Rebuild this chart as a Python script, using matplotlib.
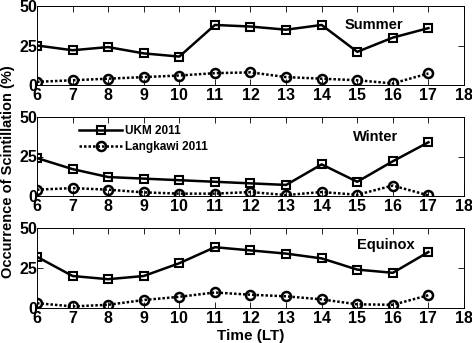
import numpy as np
import matplotlib
matplotlib.use("Agg")
import matplotlib.pyplot as plt

plt.rcParams['font.family'] = ['Liberation Sans', 'DejaVu Sans']
plt.rcParams['font.weight'] = 'bold'

hours = [6, 7, 8, 9, 10, 11, 12, 13, 14, 15, 16, 17]

summer_ukm = [25, 22, 24, 20, 18, 38, 37, 35, 38, 21, 30, 36]
summer_lgk = [2, 3, 4, 5, 6, 7.5, 8, 5, 4, 3, 1, 7.3]

winter_ukm = [24, 17, 12, 11, 10, 9, 8, 7, 20, 9, 22, 34]
winter_lgk = [4, 5, 4, 2.3, 1.5, 1.5, 2.5, 0.6, 2.5, 0.8, 6.6, 0.4]

equinox_ukm = [32, 20, 18, 20, 28, 38, 36, 34, 31, 24, 22, 35]
equinox_lgk = [3, 1, 2, 5, 7, 9.7, 8.3, 7.3, 5.4, 2.3, 2, 8]

seasons = ['Summer', 'Winter', 'Equinox']
ukm_data = [summer_ukm, winter_ukm, equinox_ukm]
lgk_data = [summer_lgk, winter_lgk, equinox_lgk]

W, H = 472, 343
fig = plt.figure(figsize=(W / 100, H / 100), dpi=100)

# axes boxes in pixels: (top, bottom)
boxes = [(6, 85), (117, 196), (228, 308)]
left, right = 37, 464
label_pos = [(0.72, 0.76), (0.74, 0.75), (0.75, 0.79)]

for i, (top, bot) in enumerate(boxes):
    ax = fig.add_axes([left / W, 1 - bot / H, (right - left) / W, (bot - top) / H])
    ax.plot(hours, ukm_data[i], '-', color='black', lw=1.8, marker='s',
            ms=6, mfc='none', mew=1.5, label='UKM 2011')
    ax.plot(hours, lgk_data[i], color='black', ls=(0, (1, 0.8)), lw=1.8,
            marker='o', ms=6.5, mfc='none', mew=1.8, label='Langkawi 2011')
    ax.set_xlim(6, 18)
    ax.set_ylim(0, 50)
    ax.set_xticks(range(6, 19))
    ax.set_yticks([0, 25, 50])
    ax.tick_params(direction='in', top=True, right=True, labelsize=11.5,
                   length=4, width=0.6)
    ax.tick_params(axis='x', pad=2)
    ax.tick_params(axis='y', pad=0)
    for lab in ax.get_xticklabels() + ax.get_yticklabels():
        lab.set_fontweight('bold')
    for s in ax.spines.values():
        s.set_linewidth(0.7)
    ax.text(label_pos[i][0], label_pos[i][1], seasons[i], transform=ax.transAxes,
            fontsize=10.5, fontweight='bold', ha='left', va='center')
    if i == 1:
        ax.legend(loc='upper left', bbox_to_anchor=(0.08, 1.0), frameon=False,
                  handlelength=3.6, handletextpad=0.3,
                  borderaxespad=0.3, labelspacing=0.3,
                  prop={'weight': 'bold', 'size': 8.5})
    if i == 2:
        ax.set_xlabel('Time (LT)', fontsize=11, fontweight='bold', labelpad=2)

fig.text(8 / W, 0.5, 'Occurrence of Scintillation (%)', rotation=90,
         ha='center', va='center', fontsize=10.5, fontweight='bold')

fig.savefig('out.png', dpi=100)
